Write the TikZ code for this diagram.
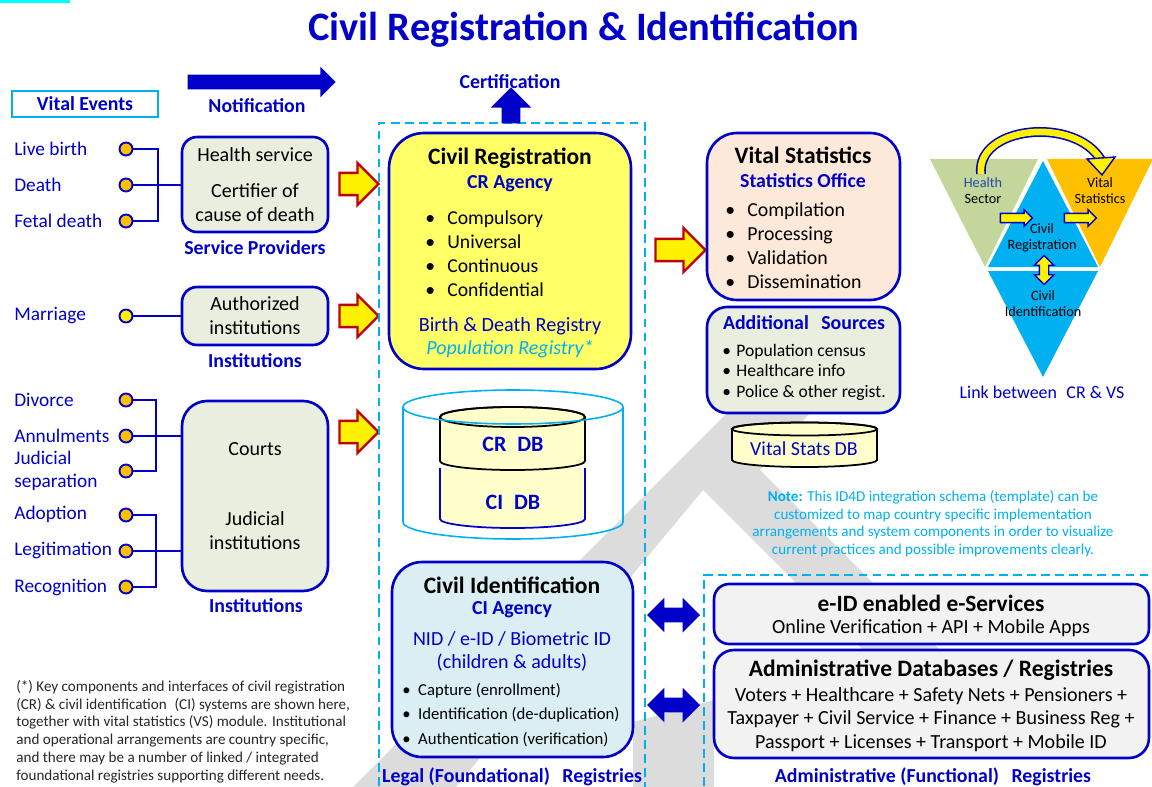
\documentclass[tikz,border=0pt]{standalone}
\usepackage{fontspec}
\setmainfont{Carlito}
\usetikzlibrary{shapes.arrows}

\definecolor{dkblue}{RGB}{0,0,200}
\definecolor{skyline}{RGB}{0,176,240}
\definecolor{topcyan}{RGB}{0,255,255}
\definecolor{crfill}{RGB}{255,255,102}
\definecolor{dbfill}{RGB}{255,255,204}
\definecolor{vsfill}{RGB}{253,233,217}
\definecolor{sgfill}{RGB}{234,238,222}
\definecolor{cifill}{RGB}{218,238,243}
\definecolor{esfill}{RGB}{242,242,242}
\definecolor{dotorange}{RGB}{255,192,0}
\definecolor{arrowred}{RGB}{192,0,0}
\definecolor{trigreen}{RGB}{195,214,155}
\definecolor{wmgray}{RGB}{220,220,220}
\definecolor{slate}{RGB}{40,70,170}

\newcommand{\fs}[2]{\fontsize{#1}{#2}\selectfont}
\newcommand{\blt}[1]{\makebox[#1][l]{\textbullet}}

\tikzset{
  box/.style={draw=dkblue, line width=1.5pt, rounded corners=#1},
  frame/.style={draw=skyline, line width=1.2pt, dash pattern=on 5pt off 3pt},
  evt/.style={text=dkblue, font=\fs{11}{13}, anchor=west, inner sep=0pt},
  dot/.style={circle, draw=dkblue, line width=1.1pt, fill=dotorange, minimum size=0.26cm, inner sep=0pt},
  link/.style={draw=dkblue, line width=1.3pt},
  lbl/.style={text=dkblue, font=\bfseries\fs{11.3}{13}},
  hd/.style={font=\bfseries\fs{13.4}{15}},
  sub/.style={text=dkblue, font=\bfseries\fs{11.3}{13}},
  txt/.style={font=\fs{11.4}{13.6}},
  lst/.style={anchor=west, align=left, inner sep=0pt},
  redarrow/.style={single arrow, draw=arrowred, fill=yellow, line width=1.3pt, inner xsep=0pt, inner ysep=0.2cm,
    single arrow head extend=0.2cm, minimum height=0.78cm},
  bluedouble/.style={double arrow, fill=dkblue, inner xsep=0pt, inner ysep=0.14cm, double arrow head extend=0.2cm,
    minimum height=1.06cm},
  tiny/.style={single arrow, draw=dkblue, fill=yellow, line width=0.8pt, inner xsep=0pt, inner ysep=0.08cm,
    single arrow head extend=0.07cm, minimum height=0.64cm},
  tri/.style={font=\fs{8.1}{9}, align=center, inner sep=0pt}
}

\begin{document}
\begin{tikzpicture}[x=0.02cm, y=-0.02cm]
\useasboundingbox (0,0) rectangle (1152,787);

% watermark behind everything
\fill[wmgray] (340,800) -- (790,350) -- (830,390) -- (760,470) -- (990,700) -- (951,738) -- (703,490) -- (445,800) -- cycle;
\fill[wmgray] (633,722) -- (714,700) -- (714,800) -- (633,800) -- cycle;

\fill[topcyan] (0,0) rectangle (70,3);
\node[font=\bfseries\fs{23}{26}, text=dkblue] (title) at (584,30) {Civil Registration \& Identification};

% left column: vital events
\node[draw=skyline, line width=1.2pt, minimum width=2.92cm, minimum height=0.52cm, font=\bfseries\fs{11.3}{13}, text=dkblue] (ve) at (85,104) {Vital Events};

\node[single arrow, fill=dkblue, inner xsep=0pt, inner ysep=0.14cm, single arrow head extend=0.16cm, minimum height=2.96cm] (notif) at (258,82) {};
\node[lbl] (notiflbl) at (257,106) {Notification};

\node[evt] (tlb) at (14,149) {Live birth};
\node[evt] (tde) at (14,185) {Death};
\node[evt] (tfd) at (14,221) {Fetal death};
\node[evt] (tma) at (14,316) {Marriage};
\node[evt] (tdv) at (14,400) {Divorce};
\node[evt] (tan) at (14,436) {Annulments};
\node[evt, align=left, font=\fs{11}{13}] (tjs) at (14,471) {Judicial\\separation};
\node[evt] (tad) at (14,514) {Adoption};
\node[evt] (tlg) at (14,550) {Legitimation};
\node[evt] (trc) at (14,587) {Recognition};

\node[dot] (clb) at (126,149) {};
\node[dot] (cde) at (126,185) {};
\node[dot] (cfd) at (126,221) {};
\node[dot, fill=yellow] (cma) at (126,316) {};
\node[dot] (cdv) at (126,400) {};
\node[dot] (can) at (126,436) {};
\node[dot] (cjs) at (126,471) {};
\node[dot] (cad) at (126,515) {};
\node[dot] (clg) at (126,551) {};
\node[dot] (crc) at (126,587) {};

% service providers and institutions
\node[box=0.3cm, fill=sgfill, minimum width=2.92cm, minimum height=1.9cm, align=center, txt] (hs) at (255,184.5) {Health service\\[6.8pt]Certifier of\\cause of death};
\node[lbl] (hslbl) at (255,248) {Service Providers};
\node[box=0.3cm, fill=sgfill, minimum width=2.92cm, minimum height=1.16cm, align=center, txt] (au) at (255,316) {Authorized\\institutions};
\node[lbl] (aulbl) at (255,361) {Institutions};
\node[box=0.5cm, fill=sgfill, minimum width=2.92cm, minimum height=3.8cm, align=center, txt] (ct) at (255,496) {Courts\\[26.6pt]Judicial\\institutions};
\node[lbl] (ctlbl) at (256,606) {Institutions};

\coordinate (bus1) at (158,0);
\coordinate (bus2) at (156,0);
\draw[link] (clb.east) -- (clb.east -| bus1) -- (cfd.east -| bus1) -- (cfd.east);
\draw[link] (cde.east) -- (cde.east -| hs.west);
\draw[link] (cma.east) -- (cma.east -| au.west);
\draw[link] (cdv.east) -- (cdv.east -| bus2) -- (cjs.east -| bus2) -- (cjs.east);
\draw[link] (can.east) -- (can.east -| ct.west);
\draw[link] (cad.east) -- (cad.east -| bus2) -- (crc.east -| bus2) -- (crc.east);
\draw[link] (clg.east) -- (clg.east -| ct.west);

\node[redarrow] (ra1) at (353.5,184) {};
\node[redarrow] (ra2) at (353.5,316) {};
\node[redarrow] (ra3) at (353.5,432) {};

% legal (foundational) registries
\draw[frame] (379,800) -- (379,123) -- (645,123) -- (645,800);
\node[lbl] (legal) at (512,777) {Legal (Foundational)\hspace{0.4em} Registries};

\node[single arrow, fill=dkblue, shape border rotate=90, inner xsep=0.18cm, inner ysep=0pt, single arrow head extend=0.22cm, minimum height=0.72cm] (cert) at (511,110) {};
\node[lbl] (certlbl) at (510,82) {Certification};

\node[box=0.7cm, fill=crfill, minimum width=4.84cm, minimum height=4.72cm] (cr) at (510,251) {};
\node[hd] (crt) at (510,158) {Civil Registration};
\node[sub] (cra) at (510,184) {CR Agency};
\node[lst, font=\fs{11.2}{13.6}] (crl) at (425,254) {\blt{12.5pt}Compulsory\\\blt{12.5pt}Universal\\\blt{12.5pt}Continuous\\\blt{12.5pt}Confidential};
\node[text=dkblue, font=\fs{11.5}{13}] (crb) at (510,326) {Birth \& Death Registry};
\node[text=skyline, font=\itshape\fs{11.4}{13}] (crp) at (510,349) {Population Registry*};

% databases
\fill[dbfill] (440,468) -- (440,519) arc[start angle=180, end angle=0, x radius=72.5, y radius=9] -- (585,468) -- cycle;
\draw[dkblue, line width=1pt] (440,468) -- (440,519) arc[start angle=180, end angle=0, x radius=72.5, y radius=9] -- (585,468);
\filldraw[fill=dbfill, draw=black, line width=1pt] (440,417) -- (440,461) arc[start angle=180, end angle=0, x radius=72.5, y radius=9] -- (585,417) arc[start angle=0, end angle=-180, x radius=72.5, y radius=10] -- cycle;
\draw[black, line width=1pt] (512.5,417) ellipse[x radius=72.5, y radius=10];
\draw[skyline, line width=0.9pt] (513,407) ellipse[x radius=110, y radius=17];
\draw[skyline, line width=0.9pt] (403,407) -- (403,522) arc[start angle=180, end angle=0, x radius=110, y radius=17] -- (623,407);
\node[font=\bfseries\fs{12.5}{14}, text=dkblue] (crdb) at (513,444) {CR\hspace{0.5em}DB};
\node[font=\bfseries\fs{12.5}{14}, text=dkblue] (cidb) at (513,502) {CI\hspace{0.5em}DB};

\node[box=0.6cm, fill=cifill, minimum width=4.82cm, minimum height=3.9cm] (ci) at (512.5,659.5) {};
\node[hd] (cit) at (512,585) {Civil Identification};
\node[sub] (cia) at (512,610) {CI Agency};
\node[text=dkblue, font=\fs{11.4}{13}, align=center] (cin) at (512,651.5) {NID / e-ID / Biometric ID\\(children \& adults)};
\node[lst, font=\fs{9.5}{14.2}] (cil) at (402,715) {\blt{9pt}Capture (enrollment)\\\blt{9pt}Identification (de-duplication)\\\blt{9pt}Authentication (verification)};

% vital statistics
\node[single arrow, draw=arrowred, fill=yellow, line width=1.3pt, inner xsep=0pt, inner ysep=0.2cm, single arrow head extend=0.22cm, minimum height=1cm] (ra4) at (675,250) {};
\node[box=0.6cm, fill=vsfill, minimum width=3.86cm, minimum height=3.34cm] (vs) at (803.5,216.5) {};
\node[hd] (vst) at (803,155) {Vital Statistics};
\node[sub] (vso) at (803,181) {Statistics Office};
\node[lst, font=\fs{11.3}{13.6}] (vsl) at (725,246) {\blt{12.5pt}Compilation\\\blt{12.5pt}Processing\\\blt{12.5pt}Validation\\\blt{12.5pt}Dissemination};

\node[box=0.4cm, fill=sgfill, minimum width=3.86cm, minimum height=2.12cm] (ad) at (803.5,360) {};
\node[sub] (adt) at (804,323) {Additional\hspace{0.4em} Sources};
\node[lst, font=\fs{10}{11.7}] (adl) at (722,372) {\blt{8pt}Population census\\\blt{8pt}Healthcare info\\\blt{8pt}Police \& other regist.};

\filldraw[fill=dbfill, draw=black, line width=1pt] (732,429) -- (732,460) arc[start angle=180, end angle=0, x radius=72.5, y radius=7] -- (877,429) arc[start angle=0, end angle=-180, x radius=72.5, y radius=6.5] -- cycle;
\draw[black, line width=1pt] (804.5,429) ellipse[x radius=72.5, y radius=6.5];
\node[text=dkblue, font=\fs{11.3}{13}] (vsdb) at (804,449) {Vital Stats DB};

\node[text=skyline, font=\fs{8.6}{10}, align=center] (note) at (933,523.5) {\textbf{Note:} This ID4D integration schema (template) can be\\customized to map country specific implementation\\arrangements and system components in order to visualize\\current practices and possible improvements clearly.};

% link between CR and VS
\fill[trigreen] (930,159) -- (1038,159) -- (985,267) -- cycle;
\fill[dotorange] (1047,159) -- (1153,159) -- (1100,267) -- cycle;
\fill[skyline] (1043,161) -- (988,267) -- (1098,267) -- cycle;
\fill[skyline] (988,271) -- (1098,271) -- (1043,377) -- cycle;
\node[tri] (hsec) at (983,191) {\textcolor{slate}{Health}\\Sector};
\node[tri] (vstat) at (1100,191) {Vital\\Statistics};
\node[tri] (creg) at (1042,238) {Civil\\Registration};
\node[tri] (cid) at (1043,304) {Civil\\Identification};
\node[text=dkblue, font=\fs{10.2}{12}] (linklbl) at (1042,392) {Link between\hspace{0.3em} CR \& VS};
\node[tiny] (ta1) at (1014,218) {};
\node[tiny] (ta2) at (1078,218) {};
\node[double arrow, draw=dkblue, fill=yellow, line width=0.8pt, shape border rotate=90, inner xsep=0.08cm, inner ysep=0pt, double arrow head extend=0.1cm, minimum height=0.58cm] (ta3) at (1044,270) {};
\coordinate (arcs) at (981,174);
\coordinate (arce) at (1101,160);
\draw[dkblue, line width=5.6pt] (arcs) .. controls (976,126) and (1075,116) .. (arce);
\draw[yellow, line width=3.8pt] (arcs) .. controls (976,126) and (1075,116) .. (arce);
\filldraw[fill=yellow, draw=dkblue, line width=0.8pt] (1087,159) -- (1115,157) -- (1102,175) -- cycle;

% administrative (functional) registries
\draw[frame] (704,800) -- (704,575) -- (1150,575);
\node[bluedouble] (da1) at (673.5,615) {};
\node[bluedouble] (da2) at (673.5,705) {};
\node[box=0.3cm, fill=esfill, minimum width=8.7cm, minimum height=1.2cm] (es) at (931.5,614) {};
\node[font=\bfseries\fs{13.3}{15}] (est) at (931,603) {e-ID enabled e-Services};
\node[font=\fs{11.4}{13}] (esl) at (931,628) {Online Verification + API + Mobile Apps};
\node[box=0.4cm, fill=esfill, minimum width=8.7cm, minimum height=2.16cm] (adm) at (931.5,704) {};
\node[font=\bfseries\fs{13.4}{15}] (admt) at (931,670) {Administrative Databases / Registries};
\node[font=\fs{11.4}{13.3}, align=center] (adml) at (931,719.5) {Voters + Healthcare + Safety Nets + Pensioners +\\Taxpayer + Civil Service + Finance + Business Reg +\\Passport + Licenses + Transport + Mobile ID};
\node[lbl] (funct) at (933,777) {Administrative (Functional)\hspace{0.4em} Registries};

% footnote
\node[font=\fs{8.6}{10.1}, text=black!85, anchor=west, align=left, inner sep=0pt] (fn) at (16,731.5) {(*) Key components and interfaces of civil registration\\(CR) \& civil identification\hspace{0.3em} (CI) systems are shown here,\\together with vital statistics (VS) module. Institutional\\and operational arrangements are country specific,\\and there may be a number of linked / integrated\\foundational registries supporting different needs.};
\end{tikzpicture}
\end{document}
